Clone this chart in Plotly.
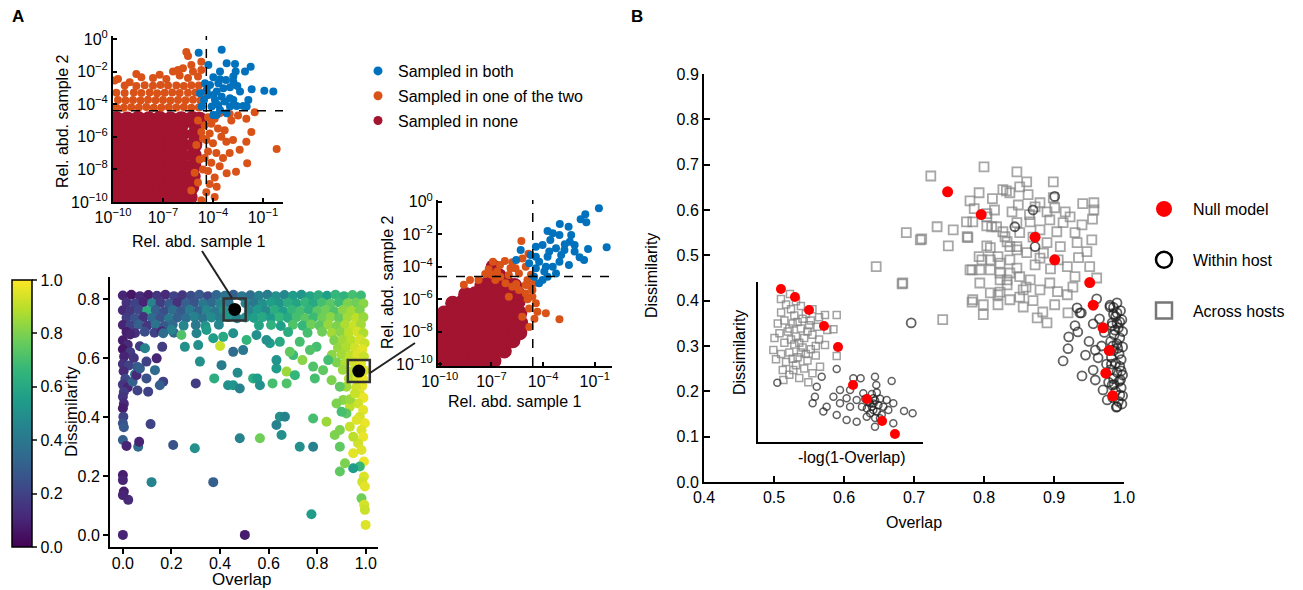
import plotly.graph_objects as go

W, H = 1303, 590
FONT = "Liberation Sans, Arial, sans-serif"

BLUE, ORANGE, CRIMSON = "#0072BD", "#D95319", "#A2142F"

# ---------------- Panel A, upper inset (log10 relative abundances) ----------------
IN1_THRESH = -4.4
IN1_NONE = [
    (-9.80, -9.75), (-9.15, -9.78), (-8.50, -9.74), (-7.85, -9.77), (-7.20, -9.75), (-6.55, -9.76), (-5.90, -9.74), (-5.40, -9.70),
    (-9.78, -9.10), (-9.13, -9.12), (-8.48, -9.08), (-7.83, -9.11), (-7.18, -9.09), (-6.53, -9.12), (-5.88, -9.10), (-5.30, -9.08),
    (-9.80, -8.45), (-9.15, -8.47), (-8.50, -8.44), (-7.85, -8.46), (-7.20, -8.43), (-6.55, -8.46), (-5.90, -8.45), (-5.22, -8.44),
    (-9.79, -7.80), (-9.14, -7.82), (-8.49, -7.79), (-7.84, -7.81), (-7.19, -7.78), (-6.54, -7.82), (-5.89, -7.80), (-5.18, -7.79),
    (-9.80, -7.15), (-9.15, -7.17), (-8.50, -7.14), (-7.85, -7.16), (-7.20, -7.13), (-6.55, -7.17), (-5.90, -7.15), (-5.15, -7.14),
    (-9.78, -6.50), (-9.13, -6.52), (-8.48, -6.49), (-7.83, -6.51), (-7.18, -6.48), (-6.53, -6.52), (-5.88, -6.50), (-5.12, -6.49),
    (-9.80, -5.85), (-9.15, -5.87), (-8.50, -5.84), (-7.85, -5.86), (-7.20, -5.83), (-6.55, -5.87), (-5.90, -5.85), (-5.08, -5.84),
    (-9.79, -5.22), (-9.14, -5.24), (-8.49, -5.21), (-7.84, -5.23), (-7.19, -5.20), (-6.54, -5.24), (-5.89, -5.22), (-5.02, -5.20),
    (-9.80, -4.92), (-9.15, -4.94), (-8.50, -4.91), (-7.85, -4.93), (-7.20, -4.90), (-6.55, -4.94), (-5.90, -4.92), (-5.25, -4.91), (-4.80, -4.95),
]
IN1_ONE = [
    (-9.80, -4.20), (-9.35, -4.22), (-8.90, -4.19), (-8.45, -4.21), (-8.00, -4.18), (-7.55, -4.22), (-7.10, -4.20), (-6.65, -4.19), (-6.20, -4.21), (-5.75, -4.18), (-5.30, -4.22), (-4.85, -4.20),
    (-9.70, -3.75), (-9.25, -3.78), (-8.80, -3.74), (-8.35, -3.77), (-7.90, -3.73), (-7.45, -3.76), (-7.00, -3.75), (-6.55, -3.78), (-6.10, -3.74), (-5.65, -3.76), (-5.20, -3.73), (-4.75, -3.77),
    (-9.80, -3.30), (-9.30, -3.32), (-8.75, -3.28), (-8.30, -3.31), (-7.80, -3.29), (-7.35, -3.33), (-6.90, -3.30), (-6.45, -3.28), (-6.00, -3.32), (-5.50, -3.30), (-5.05, -3.29), (-4.60, -3.31),
    (-9.30, -2.85), (-8.60, -2.88), (-8.10, -2.84), (-7.60, -2.87), (-7.15, -2.83), (-6.70, -2.86), (-6.20, -2.85), (-5.75, -2.88), (-5.30, -2.84), (-4.85, -2.86),
    (-9.70, -2.45), (-9.00, -2.65), (-8.30, -2.35), (-7.60, -2.40), (-7.20, -2.20), (-6.80, -2.45), (-6.40, -2.00), (-6.00, -2.25),
    (-5.80, -1.80), (-5.50, -2.40), (-5.20, -2.00), (-4.90, -2.30), (-4.70, -1.90), (-5.60, -0.80), (-5.50, -1.05), (-4.70, -1.40),
    (-5.30, -1.60), (-6.10, -1.90), (-8.60, -2.15), (-9.90, -2.55),
    (-4.30, -4.80), (-4.10, -5.20), (-3.90, -4.90), (-3.70, -5.50), (-4.20, -5.80), (-3.50, -6.00), (-4.00, -6.40), (-3.20, -6.30),
    (-2.80, -6.20), (-2.00, -6.30), (-0.18, -6.75), (-4.30, -6.90), (-3.80, -7.00), (-3.40, -7.30), (-4.10, -7.60), (-1.95, -7.63),
    (-3.60, -7.80), (-4.30, -8.10), (-2.62, -8.14), (-3.18, -8.24), (-3.90, -8.50), (-4.20, -8.90), (-3.78, -9.06), (-4.40, -9.40),
    (-3.90, -9.70), (-4.50, -7.30), (-4.50, -5.30), (-3.30, -5.60), (-2.90, -5.00), (-2.50, -4.70), (-2.00, -4.90), (-1.50, -4.50),
    (-3.00, -4.60), (-3.60, -4.55), (-4.40, -6.20), (-3.00, -7.00), (-2.40, -6.80), (-1.70, -5.70),
    (-4.90, -5.00), (-4.70, -5.70), (-5.00, -6.50), (-4.80, -7.40), (-5.10, -8.20), (-4.90, -8.80), (-5.30, -9.30), (-4.70, -9.90),
    (-4.60, -6.10), (-4.60, -8.00),
]
IN1_BOTH = [
    (-4.86, -0.84), (-3.48, -0.67), (-4.28, -1.60), (-3.18, -1.49), (-2.68, -1.53), (-2.64, -2.00), (-2.08, -2.00), (-1.74, -1.70),
    (-3.98, -2.35), (-3.58, -2.47), (-3.22, -2.52), (-2.78, -2.62), (-2.98, -2.97), (-2.54, -2.88), (-1.68, -3.09), (-0.92, -3.17),
    (-0.38, -3.23), (-1.88, -3.74), (-4.38, -3.13), (-3.78, -3.23), (-3.48, -3.54), (-2.98, -3.64), (-2.58, -4.11), (-2.18, -4.11),
    (-3.58, -4.36), (-3.98, -4.66), (-3.18, -4.56), (-4.54, -3.74), (-4.28, -3.44), (-3.88, -3.74), (-4.18, -2.82), (-3.68, -2.72),
    (-3.38, -3.03), (-3.98, -3.44), (-3.28, -3.84), (-2.78, -3.74), (-3.68, -4.05), (-2.98, -4.15), (-4.48, -2.72), (-2.78, -2.31),
    (-3.58, -2.00), (-4.78, -3.33), (-4.68, -4.15), (-3.78, -4.66), (-4.08, -4.15), (-2.38, -3.23), (-1.98, -4.15),
]

# ---------------- Panel A, right inset ----------------
IN2_THRESH = -4.6
IN2_NONE = [
    (-9.80, -9.80), (-9.20, -9.82), (-8.60, -9.79), (-8.00, -9.81), (-7.40, -9.80), (-6.85, -9.78),
    (-9.80, -9.20), (-9.20, -9.22), (-8.60, -9.19), (-8.00, -9.21), (-7.40, -9.20), (-6.80, -9.22), (-6.25, -9.18),
    (-9.80, -8.60), (-9.20, -8.62), (-8.60, -8.59), (-8.00, -8.61), (-7.40, -8.58), (-6.80, -8.62), (-6.20, -8.60), (-5.75, -8.55),
    (-9.80, -8.00), (-9.20, -8.02), (-8.60, -7.99), (-8.00, -8.01), (-7.40, -7.98), (-6.80, -8.02), (-6.20, -8.00), (-5.60, -7.98), (-5.35, -8.05),
    (-9.80, -7.40), (-9.20, -7.42), (-8.60, -7.39), (-8.00, -7.41), (-7.40, -7.38), (-6.80, -7.42), (-6.20, -7.40), (-5.60, -7.38), (-5.30, -7.45),
    (-9.75, -6.85), (-9.20, -6.82), (-8.60, -6.79), (-8.00, -6.81), (-7.40, -6.78), (-6.80, -6.82), (-6.20, -6.80), (-5.60, -6.78), (-5.35, -6.85),
    (-9.25, -6.25), (-8.75, -6.22), (-8.20, -6.19), (-7.60, -6.21), (-7.00, -6.18), (-6.45, -6.22), (-5.95, -6.20), (-5.45, -6.15),
    (-8.50, -5.70), (-7.95, -5.66), (-7.40, -5.68), (-6.85, -5.62), (-6.35, -5.65), (-5.90, -5.63), (-5.50, -5.60),
    (-7.55, -5.15), (-7.00, -5.08), (-6.50, -5.12), (-6.00, -5.10), (-5.65, -5.15),
    (-7.05, -4.60), (-6.55, -4.55), (-6.90, -4.00),
]
IN2_ONE = [
    (-5.26, -2.42), (-6.91, -3.69), (-6.22, -3.65), (-5.79, -3.73), (-5.60, -4.10), (-5.01, -4.00), (-7.16, -4.16), (-7.36, -4.45),
    (-8.24, -4.82), (-7.75, -4.82), (-6.77, -4.82), (-6.48, -4.61), (-5.99, -4.51), (-5.40, -4.41), (-4.91, -4.82), (-4.72, -5.23),
    (-5.01, -5.64), (-4.62, -5.84), (-4.42, -6.25), (-4.81, -6.56), (-4.33, -6.76), (-3.84, -6.86), (-3.05, -7.23), (-5.21, -7.07),
    (-5.56, -5.06), (-5.79, -5.23), (-6.18, -5.02), (-5.40, -5.43), (-5.01, -5.12), (-4.62, -5.43), (-5.99, -5.84), (-4.50, -5.00),
    (-4.70, -4.50), (-6.67, -4.30), (-5.89, -4.10), (-5.20, -3.50), (-4.85, -3.20), (-6.50, -3.90), (-7.00, -4.50), (-8.60, -5.10),
    (-4.90, -6.00), (-4.50, -7.20), (-4.80, -7.70),
]
IN2_BOTH = [
    (-0.76, -0.41), (-1.55, -0.78), (-1.82, -1.09), (-1.49, -1.27), (-3.03, -1.37), (-2.52, -1.54), (-3.74, -1.80), (-3.44, -1.95),
    (-3.05, -2.05), (-2.37, -2.05), (-2.45, -2.46), (-2.74, -2.62), (-2.17, -2.66), (-0.31, -2.81), (-1.39, -2.91), (-3.58, -2.36),
    (-4.03, -2.66), (-4.42, -2.77), (-3.25, -2.87), (-2.76, -2.97), (-1.88, -3.42), (-1.62, -3.59), (-2.50, -3.89), (-3.05, -3.69),
    (-3.74, -3.38), (-4.23, -3.69), (-4.81, -3.79), (-5.30, -2.97), (-5.56, -3.59), (-3.44, -4.00), (-3.93, -4.30), (-4.42, -4.10),
    (-4.03, -4.82), (-3.74, -4.61), (-4.23, -5.02), (-3.25, -4.41), (-3.64, -3.07), (-4.72, -3.28), (-4.42, -3.38), (-2.95, -3.28),
    (-2.17, -3.07), (-3.84, -4.00), (-4.52, -4.61),
]

# ---------------- Panel A main: (overlap, dissimilarity, colour value) ----------------
MAIN_A = [
    (0.000, 0.812, 0.10), (0.035, 0.815, 0.06), (0.070, 0.810, 0.12), (0.105, 0.814, 0.08), (0.140, 0.811, 0.15), (0.175, 0.815, 0.12),
    (0.210, 0.810, 0.20), (0.245, 0.813, 0.16), (0.280, 0.811, 0.24), (0.315, 0.815, 0.28), (0.350, 0.810, 0.22), (0.385, 0.814, 0.33),
    (0.420, 0.811, 0.38), (0.455, 0.815, 0.30), (0.490, 0.810, 0.40), (0.525, 0.813, 0.36), (0.560, 0.811, 0.44), (0.595, 0.815, 0.42),
    (0.630, 0.810, 0.50), (0.665, 0.814, 0.46), (0.700, 0.811, 0.55), (0.735, 0.815, 0.52), (0.770, 0.810, 0.58), (0.805, 0.813, 0.62),
    (0.840, 0.811, 0.56), (0.875, 0.815, 0.66), (0.910, 0.810, 0.64), (0.945, 0.814, 0.70), (0.980, 0.812, 0.68),
    (0.015, 0.788, 0.14), (0.050, 0.785, 0.20), (0.085, 0.789, 0.10), (0.120, 0.786, 0.45), (0.155, 0.788, 0.18), (0.190, 0.784, 0.28),
    (0.225, 0.788, 0.14), (0.260, 0.786, 0.30), (0.295, 0.789, 0.26), (0.330, 0.785, 0.40), (0.365, 0.788, 0.34), (0.400, 0.786, 0.45),
    (0.435, 0.789, 0.38), (0.505, 0.786, 0.44), (0.540, 0.788, 0.40), (0.575, 0.785, 0.50), (0.610, 0.789, 0.56), (0.645, 0.786, 0.52),
    (0.680, 0.788, 0.62), (0.715, 0.785, 0.58), (0.750, 0.789, 0.66), (0.785, 0.786, 0.60), (0.820, 0.788, 0.70), (0.855, 0.785, 0.74),
    (0.890, 0.789, 0.68), (0.925, 0.786, 0.80), (0.960, 0.788, 0.78), (0.990, 0.785, 0.82),
    (0.000, 0.762, 0.12), (0.030, 0.760, 0.16), (0.065, 0.764, 0.22), (0.100, 0.760, 0.62), (0.135, 0.763, 0.30), (0.170, 0.759, 0.24),
    (0.205, 0.763, 0.36), (0.240, 0.760, 0.28), (0.275, 0.764, 0.42), (0.310, 0.760, 0.32), (0.345, 0.763, 0.46), (0.380, 0.759, 0.40),
    (0.415, 0.763, 0.50), (0.520, 0.760, 0.46), (0.555, 0.764, 0.54), (0.590, 0.760, 0.48), (0.625, 0.763, 0.62), (0.660, 0.759, 0.56),
    (0.695, 0.763, 0.66), (0.730, 0.760, 0.70), (0.765, 0.764, 0.64), (0.800, 0.760, 0.74), (0.835, 0.763, 0.78), (0.870, 0.759, 0.72),
    (0.905, 0.763, 0.82), (0.940, 0.760, 0.86), (0.975, 0.764, 0.80),
    (0.015, 0.737, 0.18), (0.050, 0.735, 0.26), (0.085, 0.739, 0.14), (0.120, 0.736, 0.34), (0.155, 0.738, 0.26), (0.190, 0.734, 0.40),
    (0.225, 0.738, 0.30), (0.260, 0.736, 0.36), (0.295, 0.739, 0.44), (0.330, 0.735, 0.38), (0.365, 0.738, 0.48), (0.400, 0.736, 0.42),
    (0.435, 0.739, 0.52), (0.470, 0.735, 0.44), (0.505, 0.738, 0.50), (0.540, 0.736, 0.56), (0.575, 0.739, 0.60), (0.610, 0.735, 0.54),
    (0.645, 0.738, 0.66), (0.680, 0.736, 0.60), (0.715, 0.739, 0.70), (0.750, 0.735, 0.74), (0.785, 0.738, 0.68), (0.820, 0.736, 0.78),
    (0.855, 0.739, 0.82), (0.890, 0.735, 0.76), (0.925, 0.738, 0.86), (0.960, 0.736, 0.90), (0.990, 0.739, 0.84),
    (0.000, 0.712, 0.10), (0.030, 0.710, 0.20), (0.065, 0.714, 0.30), (0.100, 0.710, 0.16), (0.135, 0.713, 0.38), (0.170, 0.709, 0.28),
    (0.205, 0.713, 0.34), (0.250, 0.710, 0.46), (0.300, 0.712, 0.40), (0.340, 0.709, 0.52), (0.395, 0.713, 0.46), (0.560, 0.711, 0.58),
    (0.610, 0.712, 0.64), (0.650, 0.709, 0.56), (0.700, 0.713, 0.72), (0.740, 0.710, 0.66), (0.775, 0.714, 0.78), (0.810, 0.710, 0.74),
    (0.845, 0.713, 0.84), (0.880, 0.709, 0.80), (0.915, 0.713, 0.88), (0.950, 0.710, 0.92), (0.980, 0.714, 0.86),
    (0.015, 0.688, 0.08), (0.050, 0.685, 0.14), (0.090, 0.689, 0.24), (0.130, 0.686, 0.20), (0.160, 0.690, 0.10), (0.210, 0.686, 0.32),
    (0.680, 0.688, 0.62), (0.760, 0.686, 0.70), (0.820, 0.689, 0.78), (0.860, 0.685, 0.86), (0.895, 0.688, 0.82), (0.930, 0.686, 0.90),
    (0.965, 0.689, 0.94), (0.990, 0.685, 0.88),
    (0.870, 0.660, 0.80), (0.905, 0.662, 0.86), (0.940, 0.660, 0.90), (0.975, 0.663, 0.94), (0.995, 0.650, 0.92),
    (0.885, 0.635, 0.84), (0.920, 0.637, 0.88), (0.955, 0.635, 0.93), (0.985, 0.630, 0.96),
    (0.860, 0.610, 0.82), (0.900, 0.612, 0.86), (0.935, 0.608, 0.90), (0.965, 0.612, 0.95), (0.992, 0.605, 0.92),
    (0.880, 0.585, 0.80), (0.915, 0.583, 0.88), (0.950, 0.587, 0.93), (0.980, 0.582, 0.96),
    (0.905, 0.560, 0.85), (0.940, 0.555, 0.90), (0.995, 0.558, 0.95), (0.930, 0.530, 0.88), (0.965, 0.532, 0.94), (0.990, 0.528, 0.97),
    (0.985, 0.505, 0.96), (0.960, 0.500, 0.93),
    (0.975, 0.480, 0.95), (0.990, 0.465, 0.97), (0.968, 0.446, 0.93), (0.989, 0.424, 0.96), (0.975, 0.401, 0.94), (0.996, 0.379, 0.97),
    (0.982, 0.356, 0.95), (0.989, 0.333, 0.97), (0.968, 0.311, 0.93), (0.982, 0.288, 0.95), (0.948, 0.277, 0.96), (0.992, 0.249, 0.97),
    (0.975, 0.232, 0.66), (0.992, 0.198, 0.95), (0.985, 0.180, 0.93), (0.996, 0.164, 0.96), (0.982, 0.124, 0.78), (0.993, 0.102, 0.94),
    (0.996, 0.085, 0.92), (0.999, 0.034, 0.95),
    (0.920, 0.503, 0.86), (0.907, 0.458, 0.82), (0.934, 0.435, 0.90), (0.920, 0.412, 0.74), (0.879, 0.446, 0.80), (0.900, 0.418, 0.70),
    (0.893, 0.356, 0.80), (0.934, 0.367, 0.92), (0.948, 0.333, 0.90), (0.962, 0.390, 0.95), (0.893, 0.299, 0.75), (0.893, 0.215, 0.75),
    (0.948, 0.226, 0.55), (0.872, 0.339, 0.80), (0.838, 0.384, 0.85), (0.914, 0.243, 0.80), (0.935, 0.460, 0.85), (0.955, 0.480, 0.92),
    (0.000, 0.660, 0.08), (0.020, 0.645, 0.12), (0.000, 0.630, 0.06), (0.030, 0.620, 0.18), (0.005, 0.605, 0.10), (0.000, 0.580, 0.14),
    (0.025, 0.575, 0.20), (0.003, 0.555, 0.12), (0.010, 0.530, 0.22), (0.000, 0.510, 0.16), (0.020, 0.500, 0.10), (0.004, 0.485, 0.18),
    (0.000, 0.469, 0.15), (0.004, 0.445, 0.12), (0.000, 0.430, 0.08), (0.002, 0.401, 0.20), (0.000, 0.379, 0.25), (0.004, 0.365, 0.28),
    (0.000, 0.322, 0.30), (0.015, 0.302, 0.10), (0.000, 0.203, 0.08), (0.000, 0.186, 0.10), (0.004, 0.147, 0.08), (0.022, 0.119, 0.12),
    (0.000, 0.135, 0.10), (0.000, 0.000, 0.10), (0.045, 0.600, 0.15), (0.050, 0.545, 0.42), (0.040, 0.520, 0.30), (0.060, 0.490, 0.20),
    (0.070, 0.640, 0.18), (0.060, 0.570, 0.28), (0.030, 0.680, 0.10),
    (0.400, 0.641, 0.92), (0.317, 0.588, 0.50), (0.406, 0.576, 0.42), (0.376, 0.531, 0.62), (0.433, 0.508, 0.50), (0.454, 0.508, 0.52),
    (0.472, 0.550, 0.48), (0.454, 0.621, 0.35), (0.495, 0.627, 0.40), (0.509, 0.661, 0.65), (0.300, 0.514, 0.18), (0.310, 0.644, 0.50),
    (0.481, 0.497, 0.45), (0.536, 0.531, 0.62), (0.553, 0.531, 0.55), (0.564, 0.508, 0.50), (0.616, 0.514, 0.70), (0.674, 0.514, 0.72),
    (0.674, 0.554, 0.85), (0.632, 0.565, 0.55), (0.632, 0.593, 0.52), (0.701, 0.610, 0.68), (0.783, 0.571, 0.72), (0.790, 0.531, 0.70),
    (0.708, 0.542, 0.66), (0.739, 0.593, 0.82), (0.797, 0.638, 0.70), (0.632, 0.373, 0.45), (0.646, 0.401, 0.50), (0.667, 0.401, 0.45),
    (0.653, 0.339, 0.50), (0.564, 0.328, 0.78), (0.481, 0.328, 0.45), (0.728, 0.299, 0.50), (0.783, 0.299, 0.45), (0.783, 0.395, 0.70),
    (0.776, 0.070, 0.55), (0.372, 0.179, 0.30), (0.296, 0.294, 0.50), (0.207, 0.305, 0.25), (0.118, 0.179, 0.45), (0.114, 0.376, 0.20),
    (0.063, 0.299, 0.35), (0.067, 0.316, 0.10), (0.502, 0.000, 0.08), (0.104, 0.486, 0.20), (0.097, 0.531, 0.25), (0.166, 0.520, 0.20),
    (0.152, 0.508, 0.30), (0.056, 0.542, 0.12), (0.070, 0.565, 0.30), (0.132, 0.559, 0.35), (0.139, 0.599, 0.10), (0.097, 0.588, 0.20),
    (0.162, 0.638, 0.18), (0.091, 0.633, 0.45), (0.241, 0.678, 0.72), (0.200, 0.695, 0.45), (0.166, 0.684, 0.35), (0.255, 0.638, 0.50),
    (0.372, 0.667, 0.55), (0.413, 0.672, 0.60), (0.454, 0.684, 0.50), (0.344, 0.695, 0.55), (0.303, 0.684, 0.45), (0.605, 0.650, 0.55),
    (0.646, 0.655, 0.60), (0.687, 0.621, 0.75), (0.728, 0.655, 0.70), (0.770, 0.627, 0.72), (0.550, 0.678, 0.50), (0.591, 0.661, 0.50),
    (0.845, 0.593, 0.70), (0.824, 0.559, 0.75), (0.859, 0.525, 0.80), (0.893, 0.503, 0.75),
]
HIGHLIGHT_X = [0.46, 0.971]
HIGHLIGHT_Y = [0.765, 0.556]
CBAR_TICKS = [0.0, 0.2, 0.4, 0.6, 0.8, 1.0]

# ---------------- Panel B: (overlap, dissimilarity) ----------------
NULL_X = [0.748, 0.796, 0.873, 0.901, 0.951, 0.956, 0.970, 0.979, 0.974, 0.984]
NULL_Y = [0.640, 0.590, 0.540, 0.490, 0.440, 0.390, 0.340, 0.290, 0.240, 0.190]
ACROSS = [
    (0.724, 0.675), (0.800, 0.695), (0.847, 0.684), (0.861, 0.662), (0.793, 0.638), (0.812, 0.625), (0.832, 0.642), (0.786, 0.603),
    (0.804, 0.592), (0.775, 0.574), (0.733, 0.563), (0.756, 0.556), (0.689, 0.550), (0.709, 0.534), (0.711, 0.536), (0.749, 0.521),
    (0.777, 0.539), (0.804, 0.565), (0.818, 0.563), (0.830, 0.541), (0.804, 0.521), (0.793, 0.497), (0.809, 0.490), (0.780, 0.468),
    (0.794, 0.468), (0.823, 0.483), (0.837, 0.519), (0.847, 0.512), (0.794, 0.439), (0.823, 0.446), (0.837, 0.461), (0.851, 0.453),
    (0.809, 0.417), (0.823, 0.419), (0.837, 0.402), (0.783, 0.397), (0.799, 0.391), (0.820, 0.391), (0.799, 0.369), (0.684, 0.439),
    (0.741, 0.358), (0.860, 0.430), (0.851, 0.408), (0.833, 0.435), (0.646, 0.475), (0.827, 0.645), (0.837, 0.638), (0.851, 0.651),
    (0.863, 0.634), (0.899, 0.662), (0.880, 0.616), (0.899, 0.627), (0.901, 0.605), (0.916, 0.596), (0.941, 0.614), (0.957, 0.616),
    (0.957, 0.600), (0.940, 0.567), (0.930, 0.550), (0.954, 0.534), (0.947, 0.508), (0.951, 0.475), (0.961, 0.450), (0.930, 0.453),
    (0.919, 0.475), (0.906, 0.490), (0.927, 0.430), (0.919, 0.413), (0.894, 0.439), (0.880, 0.424), (0.866, 0.446), (0.856, 0.424),
    (0.901, 0.391), (0.884, 0.375), (0.856, 0.386), (0.833, 0.446), (0.820, 0.413), (0.784, 0.402), (0.809, 0.468), (0.847, 0.472),
    (0.873, 0.479), (0.880, 0.494), (0.861, 0.506), (0.837, 0.490), (0.820, 0.497), (0.847, 0.519), (0.890, 0.528), (0.909, 0.519),
    (0.933, 0.528), (0.904, 0.552), (0.894, 0.578), (0.866, 0.574), (0.880, 0.556), (0.851, 0.550), (0.847, 0.572), (0.827, 0.552),
    (0.811, 0.563), (0.804, 0.585), (0.784, 0.574), (0.776, 0.541), (0.809, 0.517), (0.833, 0.530), (0.797, 0.490), (0.783, 0.468),
    (0.823, 0.461), (0.913, 0.572), (0.923, 0.585), (0.890, 0.596), (0.873, 0.607), (0.849, 0.611), (0.840, 0.596), (0.890, 0.351),
    (0.876, 0.362), (0.920, 0.373), (0.683, 0.437), (0.870, 0.540), (0.885, 0.505), (0.865, 0.590), (0.895, 0.470), (0.905, 0.420),
    (0.870, 0.400), (0.935, 0.495), (0.955, 0.580), (0.815, 0.600), (0.780, 0.620),
]
WITHIN = [
    (0.696, 0.351), (0.870, 0.600), (0.873, 0.519), (0.844, 0.563), (0.901, 0.630), (0.961, 0.404), (0.980, 0.386), (0.990, 0.373),
    (0.933, 0.384), (0.939, 0.373), (0.956, 0.349), (0.983, 0.351), (0.994, 0.353), (0.934, 0.331), (0.921, 0.320), (0.920, 0.294),
    (0.913, 0.267), (0.940, 0.234), (0.956, 0.247), (0.959, 0.291), (0.963, 0.274), (0.959, 0.225), (0.970, 0.203), (0.990, 0.166),
    (0.976, 0.181), (0.937, 0.373), (0.980, 0.390), (0.985, 0.370), (0.990, 0.395),
    (0.985, 0.385), (0.995, 0.378), (0.988, 0.365), (0.997, 0.358), (0.983, 0.345), (0.992, 0.340), (0.998, 0.332), (0.986, 0.325),
    (0.994, 0.318), (0.981, 0.310), (0.990, 0.305), (0.998, 0.298), (0.985, 0.290), (0.993, 0.283), (0.982, 0.275), (0.996, 0.270),
    (0.988, 0.262), (0.994, 0.255), (0.981, 0.248), (0.990, 0.242), (0.998, 0.236), (0.985, 0.228), (0.993, 0.222), (0.983, 0.214),
    (0.996, 0.208), (0.988, 0.200), (0.994, 0.192), (0.984, 0.186), (0.992, 0.178), (0.997, 0.172), (0.989, 0.165), (0.986, 0.215),
    (0.991, 0.295), (0.987, 0.335), (0.996, 0.245), (0.982, 0.260), (0.998, 0.190), (0.984, 0.300), (0.990, 0.350), (0.995, 0.225),
    (0.972, 0.330), (0.968, 0.300), (0.975, 0.260), (0.965, 0.360), (0.978, 0.220), (0.950, 0.310), (0.945, 0.280), (0.930, 0.345),
]
# inset of panel B (-log(1-Overlap) vs dissimilarity, unitless positions)
INSET_NULL_X = [0.139, 0.224, 0.309, 0.400, 0.485, 0.576, 0.661, 0.752, 0.830]
INSET_NULL_Y = [0.956, 0.906, 0.825, 0.725, 0.594, 0.356, 0.269, 0.131, 0.050]
INSET_ACROSS = [
    (0.139, 0.894), (0.194, 0.925), (0.170, 0.860), (0.230, 0.880), (0.260, 0.850), (0.200, 0.830), (0.140, 0.810), (0.290, 0.800),
    (0.330, 0.830), (0.406, 0.794), (0.477, 0.794), (0.457, 0.704), (0.477, 0.538), (0.406, 0.606), (0.376, 0.471), (0.214, 0.450),
    (0.093, 0.575), (0.109, 0.517), (0.154, 0.388), (0.305, 0.373), (0.250, 0.400), (0.190, 0.420), (0.330, 0.430), (0.280, 0.460),
    (0.230, 0.480), (0.170, 0.500), (0.140, 0.550), (0.190, 0.560), (0.240, 0.530), (0.300, 0.510), (0.350, 0.540), (0.320, 0.580),
    (0.270, 0.590), (0.220, 0.610), (0.160, 0.620), (0.130, 0.680), (0.180, 0.690), (0.230, 0.660), (0.280, 0.650), (0.330, 0.670),
    (0.370, 0.640), (0.360, 0.720), (0.310, 0.730), (0.260, 0.710), (0.210, 0.740), (0.160, 0.760), (0.120, 0.740), (0.220, 0.790),
    (0.270, 0.770), (0.320, 0.760), (0.370, 0.780), (0.250, 0.620), (0.200, 0.640), (0.300, 0.690), (0.260, 0.560), (0.210, 0.520),
    (0.290, 0.550), (0.240, 0.750), (0.190, 0.710), (0.350, 0.600), (0.150, 0.450), (0.420, 0.700), (0.100, 0.650),
]
INSET_WITHIN = [
    (0.117, 0.371), (0.356, 0.346), (0.386, 0.408), (0.477, 0.456), (0.578, 0.398), (0.622, 0.398), (0.709, 0.408), (0.717, 0.356),
    (0.810, 0.381), (0.345, 0.283), (0.331, 0.242), (0.396, 0.190), (0.457, 0.283), (0.497, 0.242), (0.558, 0.221), (0.638, 0.304),
    (0.679, 0.242), (0.699, 0.200), (0.659, 0.158), (0.739, 0.148), (0.790, 0.200), (0.885, 0.194), (0.937, 0.179), (0.820, 0.117),
    (0.709, 0.096), (0.598, 0.127), (0.537, 0.138), (0.477, 0.169), (0.416, 0.221), (0.537, 0.273), (0.598, 0.263), (0.497, 0.325),
    (0.558, 0.325), (0.780, 0.263), (0.820, 0.242), (0.699, 0.273), (0.670, 0.250), (0.690, 0.220), (0.710, 0.260), (0.720, 0.190),
    (0.680, 0.180), (0.700, 0.240), (0.730, 0.230), (0.660, 0.210), (0.740, 0.270), (0.690, 0.300), (0.650, 0.270), (0.720, 0.310),
    (0.760, 0.220), (0.630, 0.220), (0.710, 0.150), (0.750, 0.170),
]

# ---------------------------------------------------------------------------------
def lg(v):
    return [10 ** a for a in v]


def X(px):
    return px / W


def Y(py):
    return 1 - py / H


fig = go.Figure()

# ---- inset 1
for pts, col, size in [(IN1_NONE, CRIMSON, 16), (IN1_ONE, ORANGE, 8), (IN1_BOTH, BLUE, 8)]:
    fig.add_trace(go.Scatter(x=lg([p[0] for p in pts]), y=lg([p[1] for p in pts]), mode="markers",
                             marker=dict(color=col, size=size), xaxis="x", yaxis="y", showlegend=False))
for xs, ys in [([10 ** IN1_THRESH] * 2, [1e-10, 10 ** 0.18]), ([1e-10, 10 ** 0.2], [10 ** IN1_THRESH] * 2)]:
    fig.add_trace(go.Scatter(x=xs, y=ys, mode="lines", line=dict(color="black", width=1.5, dash="dash"),
                             xaxis="x", yaxis="y", showlegend=False))
# ---- inset 2
for pts, col, size in [(IN2_NONE, CRIMSON, 15), (IN2_ONE, ORANGE, 8), (IN2_BOTH, BLUE, 8)]:
    fig.add_trace(go.Scatter(x=lg([p[0] for p in pts]), y=lg([p[1] for p in pts]), mode="markers",
                             marker=dict(color=col, size=size), xaxis="x2", yaxis="y2", showlegend=False))
for xs, ys in [([10 ** IN2_THRESH] * 2, [10 ** -10.1, 10 ** 0.1]), ([10 ** -10.1, 1.0], [10 ** IN2_THRESH] * 2)]:
    fig.add_trace(go.Scatter(x=xs, y=ys, mode="lines", line=dict(color="black", width=1.5, dash="dash"),
                             xaxis="x2", yaxis="y2", showlegend=False))
# legend entries panel A
for name, col in [("Sampled in both", BLUE), ("Sampled in one of the two", ORANGE), ("Sampled in none", CRIMSON)]:
    fig.add_trace(go.Scatter(x=[None], y=[None], mode="markers", marker=dict(color=col, size=9), name=name,
                             xaxis="x", yaxis="y", legend="legend", legendgroup=name))

# ---- main A
fig.add_trace(go.Scatter(
    x=[p[0] for p in MAIN_A], y=[p[1] for p in MAIN_A], mode="markers", xaxis="x3", yaxis="y3", showlegend=False,
    marker=dict(size=10, color=[p[2] for p in MAIN_A], colorscale="Viridis", cmin=0, cmax=1,
                colorbar=dict(x=X(12), xanchor="left", y=Y(280), yanchor="top", len=267, lenmode="pixels",
                              thickness=20, thicknessmode="pixels", xpad=0, ypad=0, outlinewidth=1.5,
                              outlinecolor="black", ticks="outside", ticklen=5, tickwidth=1.5,
                              tickvals=CBAR_TICKS, tickformat=".1f",
                              tickfont=dict(family=FONT, size=16, color="black"))),
))
fig.add_trace(go.Scatter(x=HIGHLIGHT_X, y=HIGHLIGHT_Y, mode="markers", xaxis="x3", yaxis="y3", showlegend=False,
                         marker=dict(size=13, color="black")))

# ---- panel B
fig.add_trace(go.Scatter(x=[p[0] for p in ACROSS], y=[p[1] for p in ACROSS], mode="markers", xaxis="x4", yaxis="y4",
                         showlegend=False, cliponaxis=False,
                         marker=dict(symbol="square-open", size=9, color="rgba(130,130,130,0.7)", line=dict(width=1.8))))
fig.add_trace(go.Scatter(x=[p[0] for p in WITHIN], y=[p[1] for p in WITHIN], mode="markers", xaxis="x4", yaxis="y4",
                         showlegend=False, cliponaxis=False,
                         marker=dict(symbol="circle-open", size=9, color="rgba(30,30,30,0.7)", line=dict(width=1.8))))
fig.add_trace(go.Scatter(x=NULL_X, y=NULL_Y, mode="markers", xaxis="x4", yaxis="y4", showlegend=False, cliponaxis=False,
                         marker=dict(size=11, color="#FF0000")))
# inset B
fig.add_trace(go.Scatter(x=[p[0] for p in INSET_ACROSS], y=[p[1] for p in INSET_ACROSS], mode="markers", xaxis="x5",
                         yaxis="y5", showlegend=False, cliponaxis=False,
                         marker=dict(symbol="square-open", size=7, color="rgba(130,130,130,0.75)", line=dict(width=1.5))))
fig.add_trace(go.Scatter(x=[p[0] for p in INSET_WITHIN], y=[p[1] for p in INSET_WITHIN], mode="markers", xaxis="x5",
                         yaxis="y5", showlegend=False, cliponaxis=False,
                         marker=dict(symbol="circle-open", size=7, color="rgba(30,30,30,0.7)", line=dict(width=1.5))))
fig.add_trace(go.Scatter(x=INSET_NULL_X, y=INSET_NULL_Y, mode="markers", xaxis="x5", yaxis="y5", showlegend=False,
                         cliponaxis=False, marker=dict(size=10, color="#FF0000")))
# legend entries panel B (leading no-break spaces widen the gap between symbol and text)
PAD = "\u00a0\u00a0"
for name, mk in [("Null model", dict(symbol="circle", size=16, color="#FF0000")),
                 ("Within host", dict(symbol="circle-open", size=16, color="black", line=dict(width=2.5))),
                 ("Across hosts", dict(symbol="square-open", size=16, color="#777777", line=dict(width=2.5)))]:
    fig.add_trace(go.Scatter(x=[None], y=[None], mode="markers", marker=mk, name=PAD + name, xaxis="x4", yaxis="y4",
                             legend="legend2", legendgroup=name))


def axis(**kw):
    d = dict(showgrid=False, zeroline=False, showline=True, linecolor="black", linewidth=2,
             ticks="outside", ticklen=5, tickwidth=1.5, tickcolor="black",
             tickfont=dict(family=FONT, size=16, color="black"))
    d.update(kw)
    return d


SUP = "\u2212"
xt_log = [1e-10, 1e-7, 1e-4, 1e-1]
xt_txt = [f"10<sup>{SUP}10</sup>", f"10<sup>{SUP}7</sup>", f"10<sup>{SUP}4</sup>", f"10<sup>{SUP}1</sup>"]
yt_log = [1, 1e-2, 1e-4, 1e-6, 1e-8, 1e-10]
yt_txt = ["10<sup>0</sup>", f"10<sup>{SUP}2</sup>", f"10<sup>{SUP}4</sup>", f"10<sup>{SUP}6</sup>",
          f"10<sup>{SUP}8</sup>", f"10<sup>{SUP}10</sup>"]

fig.update_layout(
    width=W, height=H, margin=dict(l=0, r=0, t=0, b=0, autoexpand=False),
    paper_bgcolor="white", plot_bgcolor="rgba(0,0,0,0)",
    font=dict(family=FONT, size=16, color="black"),
    xaxis=axis(domain=[X(113), X(283)], type="log", range=[-10, 0.2], anchor="y",
               tickvals=xt_log, ticktext=xt_txt, ticks="inside", ticklen=4),
    yaxis=axis(domain=[Y(202), Y(36)], type="log", range=[-10, 0.18], anchor="x",
               tickvals=yt_log, ticktext=yt_txt, ticks="inside", ticklen=4),
    xaxis2=axis(domain=[X(438), X(612)], type="log", range=[-10.1, 0.0], anchor="y2",
                tickvals=xt_log, ticktext=xt_txt, ticks="inside", ticklen=4),
    yaxis2=axis(domain=[Y(366), Y(200)], type="log", range=[-10.1, 0.1], anchor="x2",
                tickvals=yt_log, ticktext=yt_txt, ticks="inside", ticklen=4),
    xaxis3=axis(domain=[X(110), X(378)], range=[-0.053, 1.05], anchor="y3",
                tickvals=[0, 0.2, 0.4, 0.6, 0.8, 1.0], tickformat=".1f", ticklabelstandoff=-4),
    yaxis3=axis(domain=[Y(547), Y(277)], range=[-0.041, 0.875], anchor="x3",
                tickvals=[0, 0.2, 0.4, 0.6, 0.8], tickformat=".1f"),
    xaxis4=axis(domain=[X(704), X(1124)], range=[0.4, 1.0], anchor="y4",
                tickvals=[0.4, 0.5, 0.6, 0.7, 0.8, 0.9, 1.0], tickformat=".1f", ticks="inside", ticklen=6),
    yaxis4=axis(domain=[Y(482), Y(74)], range=[0, 0.9], anchor="x4",
                tickvals=[0, 0.1, 0.2, 0.3, 0.4, 0.5, 0.6, 0.7, 0.8, 0.9], tickformat=".1f", ticks="inside", ticklen=6),
    xaxis5=axis(domain=[X(758), X(923)], range=[0, 1], anchor="y5", ticks="", showticklabels=False),
    yaxis5=axis(domain=[Y(442), Y(282)], range=[0, 1], anchor="x5", ticks="", showticklabels=False),
    legend=dict(x=X(358), xanchor="left", y=Y(54), yanchor="top", bgcolor="rgba(0,0,0,0)",
                font=dict(family=FONT, size=16, color="black"), tracegroupgap=1, itemsizing="trace"),
    legend2=dict(x=X(1144), xanchor="left", y=Y(192), yanchor="top", bgcolor="rgba(0,0,0,0)",
                 font=dict(family=FONT, size=16, color="black"), tracegroupgap=27, itemsizing="trace"),
)


def ann(text, px, py, size=16, angle=0, bold=False):
    return dict(text=f"<b>{text}</b>" if bold else text, x=X(px), y=Y(py), xref="paper", yref="paper",
                showarrow=False, textangle=angle, xanchor="center", yanchor="middle",
                font=dict(family=FONT, size=size, color="black"))


fig.update_layout(annotations=[
    ann("A", 18, 16, 17, bold=True),
    ann("B", 637, 16, 17, bold=True),
    ann("Rel. abd. sample 1", 199, 241, 16),
    ann("Rel. abd. sample 2", 63, 121, 16, angle=-90),
    ann("Rel. abd. sample 1", 515, 401, 16),
    ann("Rel. abd. sample 2", 387, 282, 16, angle=-90),
    ann("Overlap", 242, 579, 17),
    ann("Dissimilarity", 71, 412, 17, angle=-90),
    ann("Overlap", 914, 522, 16),
    ann("Dissimilarity", 651, 276, 16, angle=-90),
    ann("Dissimilarity", 739, 353, 16, angle=-90),
    ann("-log(1-Overlap)", 852, 457, 16),
])

shapes = []
for hx, hy in zip(HIGHLIGHT_X, HIGHLIGHT_Y):
    shapes.append(dict(type="rect", xref="x3", yref="y3", xsizemode="pixel", ysizemode="pixel",
                       xanchor=hx, yanchor=hy, x0=-11, x1=11, y0=-11, y1=11,
                       line=dict(color="#333333", width=2.5)))
shapes.append(dict(type="line", xref="paper", yref="paper", x0=X(202), y0=Y(251), x1=X(232), y1=Y(298),
                   line=dict(color="#222222", width=2)))
shapes.append(dict(type="line", xref="paper", yref="paper", x0=X(370), y0=Y(373), x1=X(415), y1=Y(343),
                   line=dict(color="#222222", width=2)))
fig.update_layout(shapes=shapes)

fig.write_html("out.html")
